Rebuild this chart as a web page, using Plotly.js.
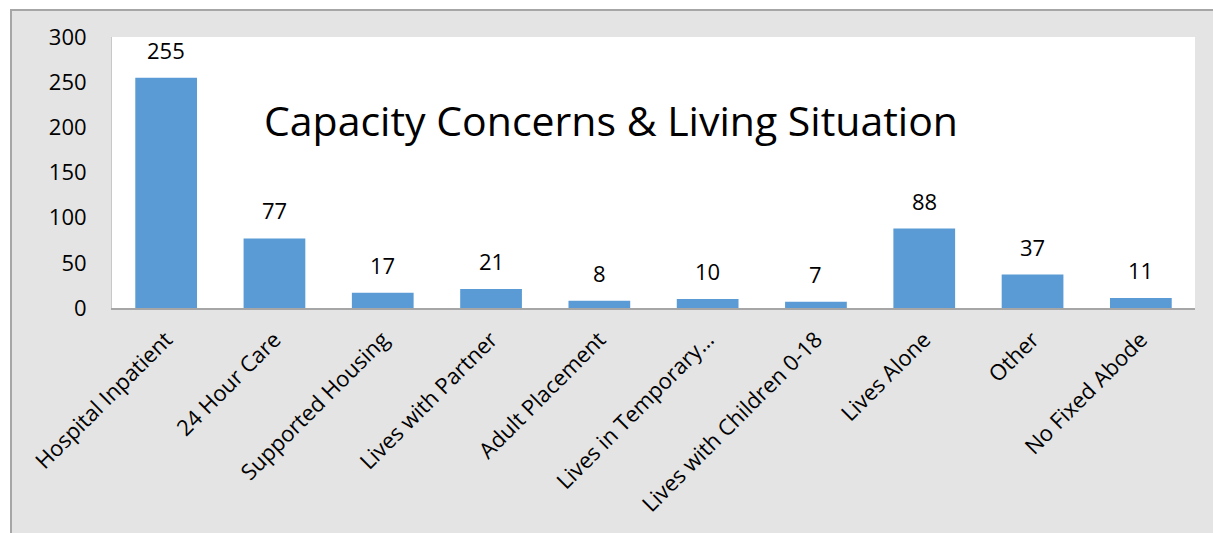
<!DOCTYPE html>
<html>
<head>
<meta charset="utf-8">
<script src="https://cdn.plot.ly/plotly-3.0.1.min.js"></script>
<style>
  html, body { margin: 0; padding: 0; background: #ffffff; }
  #frame {
    position: absolute; left: 10px; top: 9px;
    width: 1203px; height: 524px;
    border-top: 2px solid #a6a6a6; border-left: 2px solid #a6a6a6;
    background: #e4e4e4;
  }
  #chart { width: 1201px; height: 522px; }
</style>
</head>
<body>
<div id="frame"><div id="chart"></div></div>
<script>
  const categories = [
    'Hospital Inpatient', '24 Hour Care', 'Supported Housing', 'Lives with Partner',
    'Adult Placement', 'Lives in Temporary…', 'Lives with Children 0-18',
    'Lives Alone', 'Other', 'No Fixed Abode'
  ];
  const counts = [255, 77, 17, 21, 8, 10, 7, 88, 37, 11];
  const chartTitle = 'Capacity Concerns & Living Situation';
  const yTicks = [0, 50, 100, 150, 200, 250, 300];

  const fontFam = '"Open Sans", "Liberation Sans", sans-serif';

  const trace = {
    type: 'bar',
    x: categories,
    y: counts,
    marker: { color: '#5b9bd5' },
    hoverinfo: 'x+y'
  };

  // value labels sit a bit higher above the bars than plotly's own outside text
  const valueLabels = categories.map((c, i) => ({
    x: c, y: counts[i],
    xref: 'x', yref: 'y',
    text: String(counts[i]),
    showarrow: false,
    yanchor: 'bottom',
    yshift: 11,
    font: { family: fontFam, size: 22, color: '#000000' }
  }));

  const titleNote = {
    xref: 'paper', yref: 'paper',
    x: 0.461, y: 0.695,
    xanchor: 'center', yanchor: 'middle',
    text: chartTitle,
    showarrow: false,
    font: { family: fontFam, size: 41, color: '#000000' }
  };

  Plotly.newPlot('chart', [trace], {
    width: 1201,
    height: 522,
    paper_bgcolor: '#e4e4e4',
    plot_bgcolor: '#ffffff',
    margin: { l: 100, r: 18, t: 26, b: 225 },
    bargap: 0.43,
    showlegend: false,
    font: { family: fontFam, size: 22, color: '#000000' },
    xaxis: {
      type: 'category',
      tickangle: -45,
      showline: true,
      linecolor: '#a6a6a6',
      linewidth: 2,
      ticks: '',
      showgrid: false,
      ticklabelstandoff: 8,
      tickfont: { family: fontFam, size: 22, color: '#000000' }
    },
    yaxis: {
      range: [0, 300],
      tickvals: yTicks,
      showline: true,
      linecolor: '#c8c8c8',
      linewidth: 1,
      ticks: '',
      showgrid: false,
      zeroline: false,
      ticklabelstandoff: 20,
      tickfont: { family: fontFam, size: 22, color: '#000000' }
    },
    annotations: [titleNote].concat(valueLabels)
  }, { displayModeBar: false });
</script>
</body>
</html>
